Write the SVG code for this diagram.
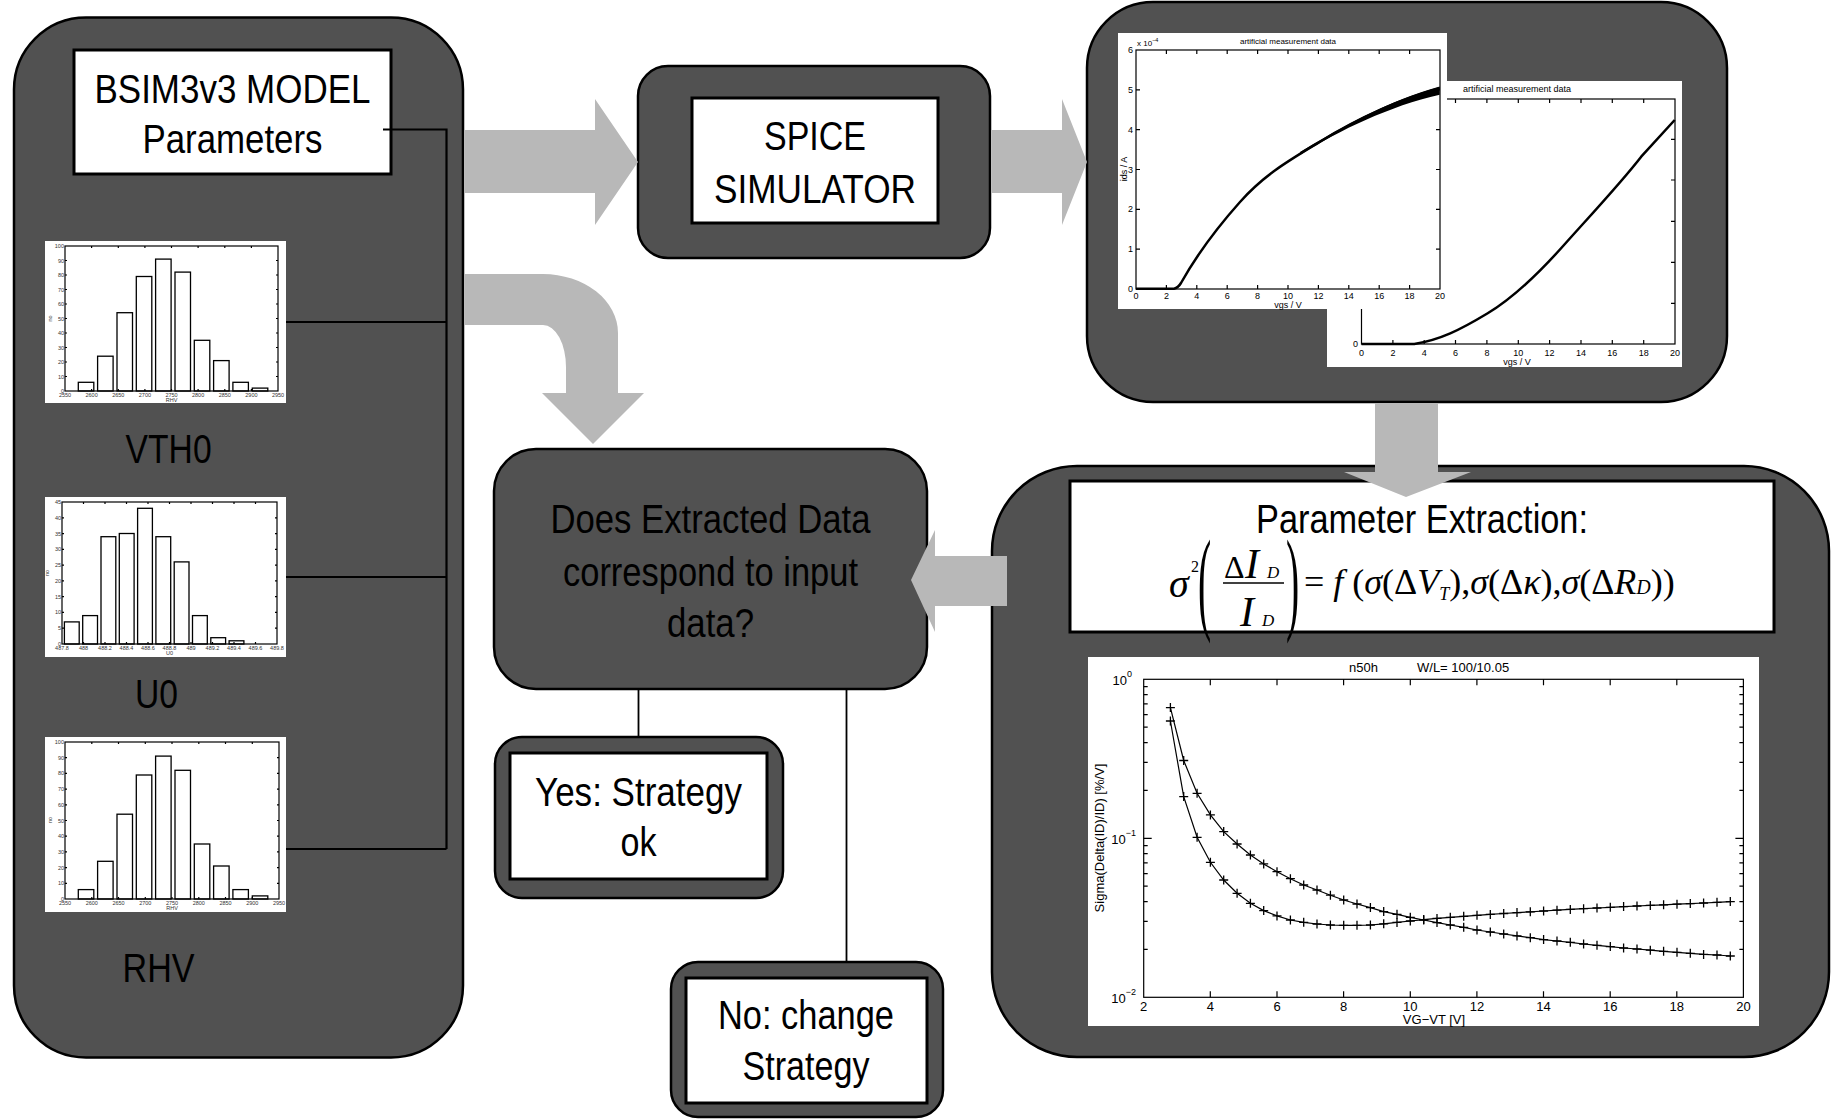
<svg xmlns="http://www.w3.org/2000/svg" width="1832" height="1119" viewBox="0 0 1832 1119">
<defs>
<style>
.box{fill:#515151;stroke:#000;stroke-width:2.5}
.wbox{fill:#fff;stroke:#000;stroke-width:3}
.wb{fill:#fff}
.arr{fill:#b8b8b8}
.ln{stroke:#000;stroke-width:2.2;fill:none}
.lbl{font-family:"Liberation Sans",Arial,sans-serif;font-size:40px;fill:#000;text-anchor:middle}
.ax{fill:none;stroke:#000;stroke-width:1.2}
.bar{fill:#fff;stroke:#000;stroke-width:1.3}
.t5{font-family:"Liberation Sans",Arial,sans-serif;font-size:5.5px;fill:#333}
.t8{font-family:"Liberation Sans",Arial,sans-serif;font-size:8px;fill:#000}
.t9{font-family:"Liberation Sans",Arial,sans-serif;font-size:9px;fill:#000}
.t13{font-family:"Liberation Sans",Arial,sans-serif;font-size:13px;fill:#000}
.mid{text-anchor:middle}
.end{text-anchor:end}
.fm{font-family:"Liberation Serif","Times New Roman",serif;fill:#000}
.crv{fill:none;stroke:#000;stroke-width:2.5;stroke-linejoin:round}
.fit{fill:none;stroke:#000;stroke-width:1.2;marker-start:url(#plus);marker-mid:url(#plus);marker-end:url(#plus)}
</style>
<marker id="plus" markerWidth="10" markerHeight="10" refX="5" refY="5" markerUnits="userSpaceOnUse" overflow="visible">
<path d="M0.5,5H9.5M5,0.5V9.5" stroke="#000" stroke-width="1.3" fill="none"/>
</marker>
</defs>

<g id="left-panel">
<rect class="box" x="14" y="17.5" width="449" height="1040" rx="72" ry="72"/>
</g>

<g id="bsim-params">
<rect class="wbox" x="74" y="50" width="317" height="124"/>
<text class="lbl" x="232.5" y="103" textLength="276" lengthAdjust="spacingAndGlyphs">BSIM3v3 MODEL</text>
<text class="lbl" x="232.5" y="153" textLength="180" lengthAdjust="spacingAndGlyphs">Parameters</text>
</g>

<g id="hist-vth0">
<rect class="wb" x="45" y="241" width="241" height="162"/>
<rect class="bar" x="78.3" y="382.3" width="15.5" height="8.7"/>
<rect class="bar" x="97.6" y="356.2" width="15.5" height="34.8"/>
<rect class="bar" x="117" y="312.7" width="15.5" height="78.3"/>
<rect class="bar" x="136.3" y="276.5" width="15.5" height="114.5"/>
<rect class="bar" x="155.6" y="259.1" width="15.5" height="131.9"/>
<rect class="bar" x="175" y="272.1" width="15.5" height="118.9"/>
<rect class="bar" x="194.3" y="340.3" width="15.5" height="50.7"/>
<rect class="bar" x="213.6" y="360.6" width="15.5" height="30.4"/>
<rect class="bar" x="232.9" y="382.3" width="15.5" height="8.7"/>
<rect class="bar" x="252.3" y="388.1" width="15.5" height="2.9"/>
<rect class="ax" x="65" y="246" width="213" height="145"/>
<path class="ax" d="M65,376.5h2M65,362h2M65,347.5h2M65,333h2M65,318.5h2M65,304h2M65,289.5h2M65,275h2M65,260.5h2M278,376.5h-2M278,362h-2M278,347.5h-2M278,333h-2M278,318.5h-2M278,304h-2M278,289.5h-2M278,275h-2M278,260.5h-2M91.6,391v-2M118.3,391v-2M144.9,391v-2M171.5,391v-2M198.1,391v-2M224.8,391v-2M251.4,391v-2M91.6,246v2M118.3,246v2M144.9,246v2M171.5,246v2M198.1,246v2M224.8,246v2M251.4,246v2"/>
<g class="t5 end">
<text x="64" y="393">0</text><text x="64" y="378.5">10</text><text x="64" y="364">20</text><text x="64" y="349.5">30</text><text x="64" y="335">40</text><text x="64" y="320.5">50</text><text x="64" y="306">60</text><text x="64" y="291.5">70</text><text x="64" y="277">80</text><text x="64" y="262.5">90</text><text x="64" y="248">100</text>
</g>
<g class="t5 mid">
<text x="65" y="397">2550</text><text x="91.6" y="397">2600</text><text x="118.3" y="397">2650</text><text x="144.9" y="397">2700</text><text x="171.5" y="397">2750</text><text x="198.1" y="397">2800</text><text x="224.8" y="397">2850</text><text x="251.4" y="397">2900</text><text x="278" y="397">2950</text>
<text x="171.5" y="402">RHV</text>
<text transform="translate(52,318.5) rotate(-90)">no</text>
</g>
</g>

<g id="label-vth0"><text class="lbl" x="168.6" y="463" textLength="86" lengthAdjust="spacingAndGlyphs">VTH0</text></g>

<g id="hist-u0">
<rect class="wb" x="45" y="497" width="241" height="160"/>
<rect class="bar" x="64.4" y="621.9" width="14.8" height="22.1"/>
<rect class="bar" x="82.7" y="615.6" width="14.8" height="28.4"/>
<rect class="bar" x="101" y="536.7" width="14.8" height="107.3"/>
<rect class="bar" x="119.3" y="533.5" width="14.8" height="110.5"/>
<rect class="bar" x="137.6" y="508.3" width="14.8" height="135.7"/>
<rect class="bar" x="155.9" y="536.7" width="14.8" height="107.3"/>
<rect class="bar" x="174.2" y="561.9" width="14.8" height="82.1"/>
<rect class="bar" x="192.5" y="615.6" width="14.8" height="28.4"/>
<rect class="bar" x="210.8" y="637.7" width="14.8" height="6.3"/>
<rect class="bar" x="229.1" y="640.8" width="14.8" height="3.2"/>
<rect class="ax" x="62" y="502" width="215" height="142"/>
<path class="ax" d="M62,628.2h2M62,612.4h2M62,596.7h2M62,580.9h2M62,565.1h2M62,549.3h2M62,533.6h2M62,517.8h2M277,628.2h-2M277,612.4h-2M277,596.7h-2M277,580.9h-2M277,565.1h-2M277,549.3h-2M277,533.6h-2M277,517.8h-2M83.5,644v-2M105,644v-2M126.5,644v-2M148,644v-2M169.5,644v-2M191,644v-2M212.5,644v-2M234,644v-2M255.5,644v-2M83.5,502v2M105,502v2M126.5,502v2M148,502v2M169.5,502v2M191,502v2M212.5,502v2M234,502v2M255.5,502v2"/>
<g class="t5 end">
<text x="61" y="646">0</text><text x="61" y="630.2">5</text><text x="61" y="614.4">10</text><text x="61" y="598.7">15</text><text x="61" y="582.9">20</text><text x="61" y="567.1">25</text><text x="61" y="551.3">30</text><text x="61" y="535.6">35</text><text x="61" y="519.8">40</text><text x="61" y="504">45</text>
</g>
<g class="t5 mid">
<text x="62" y="650">487.8</text><text x="83.5" y="650">488</text><text x="105" y="650">488.2</text><text x="126.5" y="650">488.4</text><text x="148" y="650">488.6</text><text x="169.5" y="650">488.8</text><text x="191" y="650">489</text><text x="212.5" y="650">489.2</text><text x="234" y="650">489.4</text><text x="255.5" y="650">489.6</text><text x="277" y="650">489.8</text>
<text x="169.5" y="655">U0</text>
<text transform="translate(49,573) rotate(-90)">no</text>
</g>
</g>

<g id="label-u0"><text class="lbl" x="156.5" y="708" textLength="43" lengthAdjust="spacingAndGlyphs">U0</text></g>

<g id="hist-rhv">
<rect class="wb" x="45" y="737" width="241" height="175"/>
<rect class="bar" x="78.3" y="889.6" width="15.5" height="9.4"/>
<rect class="bar" x="97.6" y="861.3" width="15.5" height="37.7"/>
<rect class="bar" x="117" y="814.2" width="15.5" height="84.8"/>
<rect class="bar" x="136.3" y="775" width="15.5" height="124"/>
<rect class="bar" x="155.6" y="756.1" width="15.5" height="142.9"/>
<rect class="bar" x="175" y="770.3" width="15.5" height="128.7"/>
<rect class="bar" x="194.3" y="844" width="15.5" height="55"/>
<rect class="bar" x="213.6" y="866" width="15.5" height="33"/>
<rect class="bar" x="232.9" y="889.6" width="15.5" height="9.4"/>
<rect class="bar" x="252.3" y="895.9" width="15.5" height="3.1"/>
<rect class="ax" x="65" y="742" width="214" height="157"/>
<path class="ax" d="M65,883.3h2M65,867.6h2M65,851.9h2M65,836.2h2M65,820.5h2M65,804.8h2M65,789.1h2M65,773.4h2M65,757.7h2M279,883.3h-2M279,867.6h-2M279,851.9h-2M279,836.2h-2M279,820.5h-2M279,804.8h-2M279,789.1h-2M279,773.4h-2M279,757.7h-2M91.8,899v-2M118.5,899v-2M145.3,899v-2M172,899v-2M198.8,899v-2M225.5,899v-2M252.3,899v-2M91.8,742v2M118.5,742v2M145.3,742v2M172,742v2M198.8,742v2M225.5,742v2M252.3,742v2"/>
<g class="t5 end">
<text x="64" y="901">0</text><text x="64" y="885.3">10</text><text x="64" y="869.6">20</text><text x="64" y="853.9">30</text><text x="64" y="838.2">40</text><text x="64" y="822.5">50</text><text x="64" y="806.8">60</text><text x="64" y="791.1">70</text><text x="64" y="775.4">80</text><text x="64" y="759.7">90</text><text x="64" y="744">100</text>
</g>
<g class="t5 mid">
<text x="65" y="905">2550</text><text x="91.8" y="905">2600</text><text x="118.5" y="905">2650</text><text x="145.3" y="905">2700</text><text x="172" y="905">2750</text><text x="198.8" y="905">2800</text><text x="225.5" y="905">2850</text><text x="252.3" y="905">2900</text><text x="279" y="905">2950</text>
<text x="172" y="910">RHV</text>
<text transform="translate(52,820) rotate(-90)">no</text>
</g>
</g>

<g id="label-rhv"><text class="lbl" x="158.5" y="982" textLength="72" lengthAdjust="spacingAndGlyphs">RHV</text></g>

<g id="spice-simulator">
<rect class="box" x="638" y="66" width="352" height="192" rx="30" ry="30"/>
<rect class="wbox" x="692" y="98" width="246" height="125"/>
<text class="lbl" x="815" y="150" textLength="102" lengthAdjust="spacingAndGlyphs">SPICE</text>
<text class="lbl" x="815" y="203" textLength="202" lengthAdjust="spacingAndGlyphs">SIMULATOR</text>
</g>

<g id="measurement-data">
<rect class="box" x="1087" y="2" width="640" height="400" rx="66" ry="66"/>
<rect class="wb" x="1327" y="81" width="355" height="286"/>
<rect class="ax" x="1361.5" y="99" width="313.5" height="245"/>
<path class="ax" d="M1675,139.3h-4M1675,180h-4M1675,221.3h-4M1675,262.3h-4M1675,303.3h-4M1392.9,344v-4M1424.2,344v-4M1455.5,344v-4M1486.9,344v-4M1518.3,344v-4M1549.6,344v-4M1581,344v-4M1612.3,344v-4M1643.7,344v-4M1392.9,99v4M1424.2,99v4M1455.5,99v4M1486.9,99v4M1518.3,99v4M1549.6,99v4M1581,99v4M1612.3,99v4M1643.7,99v4"/>
<path class="crv" d="M1361.5,344H1414.3C1440,340 1460,330 1487.7,313.3S1540,272 1564,245S1620,184 1641.2,156.7L1674.7,120"/>
<text class="t9 mid" x="1517" y="92">artificial measurement data</text>
<g class="t9 mid">
<text x="1361.5" y="356">0</text><text x="1392.9" y="356">2</text><text x="1424.2" y="356">4</text><text x="1455.5" y="356">6</text><text x="1486.9" y="356">8</text><text x="1518.3" y="356">10</text><text x="1549.6" y="356">12</text><text x="1581" y="356">14</text><text x="1612.3" y="356">16</text><text x="1643.7" y="356">18</text><text x="1675" y="356">20</text>
<text x="1517" y="365">vgs / V</text>
</g>
<text class="t9 end" x="1358" y="347">0</text>
<rect class="wb" x="1118" y="33" width="329" height="276"/>
<rect class="ax" x="1136" y="50" width="304" height="239"/>
<path class="ax" d="M1136,249.2h4M1136,209.3h4M1136,169.5h4M1136,129.7h4M1136,89.8h4M1440,249.2h-4M1440,209.3h-4M1440,169.5h-4M1440,129.7h-4M1440,89.8h-4M1166.4,289v-4M1196.8,289v-4M1227.2,289v-4M1257.6,289v-4M1288,289v-4M1318.4,289v-4M1348.8,289v-4M1379.2,289v-4M1409.6,289v-4M1166.4,50v4M1196.8,50v4M1227.2,50v4M1257.6,50v4M1288,50v4M1318.4,50v4M1348.8,50v4M1379.2,50v4M1409.6,50v4"/>
<path class="crv" d="M1136,288.7H1174Q1178,288 1181,283C1195,258 1215,230 1240,202S1290,160 1320,141.7S1390,102 1439.7,88.3"/>
<path fill="#000" d="M1300,152C1340,128 1390,100 1439.7,86.5V94.8C1390,106 1340,130 1300,155Z"/>
<text class="t8 mid" x="1288" y="44">artificial measurement data</text>
<text class="t8" x="1137" y="46">x 10<tspan font-size="5.5" dy="-4">−4</tspan></text>
<g class="t9 end">
<text x="1133" y="292">0</text><text x="1133" y="252.2">1</text><text x="1133" y="212.3">2</text><text x="1133" y="172.5">3</text><text x="1133" y="132.7">4</text><text x="1133" y="92.8">5</text><text x="1133" y="53">6</text>
</g>
<g class="t9 mid">
<text x="1136" y="299">0</text><text x="1166.4" y="299">2</text><text x="1196.8" y="299">4</text><text x="1227.2" y="299">6</text><text x="1257.6" y="299">8</text><text x="1288" y="299">10</text><text x="1318.4" y="299">12</text><text x="1348.8" y="299">14</text><text x="1379.2" y="299">16</text><text x="1409.6" y="299">18</text><text x="1440" y="299">20</text>
<text x="1288" y="308">vgs / V</text>
<text transform="translate(1127,169) rotate(-90)">ids / A</text>
</g>
</g>

<g id="decision">
<rect class="box" x="494" y="449" width="433" height="240" rx="42" ry="42"/>
<text class="lbl" x="710.5" y="533" textLength="320" lengthAdjust="spacingAndGlyphs">Does Extracted Data</text>
<text class="lbl" x="710.5" y="586" textLength="295" lengthAdjust="spacingAndGlyphs">correspond to input</text>
<text class="lbl" x="710.5" y="637" textLength="87" lengthAdjust="spacingAndGlyphs">data?</text>
</g>

<g id="yes-strategy-ok">
<rect class="box" x="495" y="737" width="288" height="161" rx="27" ry="27"/>
<rect class="wbox" x="510" y="753" width="257" height="126"/>
<text class="lbl" x="638.5" y="806" textLength="207" lengthAdjust="spacingAndGlyphs">Yes: Strategy</text>
<text class="lbl" x="638.5" y="856" textLength="36" lengthAdjust="spacingAndGlyphs">ok</text>
</g>

<g id="no-change-strategy">
<rect class="box" x="671" y="962" width="272" height="155" rx="27" ry="27"/>
<rect class="wbox" x="686" y="978" width="241" height="125"/>
<text class="lbl" x="806" y="1029" textLength="176" lengthAdjust="spacingAndGlyphs">No: change</text>
<text class="lbl" x="806" y="1080" textLength="127" lengthAdjust="spacingAndGlyphs">Strategy</text>
</g>

<g id="parameter-extraction">
<rect class="box" x="992" y="466" width="837" height="591" rx="85" ry="85"/>
<rect class="wbox" x="1070" y="481" width="704" height="151"/>
<text class="lbl" x="1422" y="533" textLength="332" lengthAdjust="spacingAndGlyphs">Parameter Extraction:</text>
<g class="fm">
<text x="1169" y="597" font-size="40" font-style="italic">σ</text>
<text x="1191" y="572" font-size="16">2</text>
<text transform="translate(1198,619) scale(0.9,2.6)" font-size="44">(</text>
<text transform="translate(1286,619) scale(0.9,2.6)" font-size="44">)</text>
<text x="1224" y="578" font-size="32">Δ</text>
<text x="1245" y="578" font-size="42" font-style="italic">I</text>
<text x="1267" y="578" font-size="17" font-style="italic">D</text>
<text x="1240" y="626" font-size="42" font-style="italic">I</text>
<text x="1262" y="626" font-size="17" font-style="italic">D</text>
<text x="1304" y="594" font-size="36">= <tspan font-style="italic">f</tspan> (<tspan font-style="italic">σ</tspan>(Δ<tspan font-style="italic">V</tspan><tspan font-style="italic" font-size="18" dy="6">T</tspan><tspan dy="-6">),</tspan><tspan font-style="italic">σ</tspan>(Δ<tspan font-style="italic">κ</tspan>),<tspan font-style="italic">σ</tspan>(Δ<tspan font-style="italic">R</tspan><tspan font-style="italic" font-size="20">D</tspan>))</text>
</g>
<line x1="1223" y1="583" x2="1284" y2="583" stroke="#000" stroke-width="1.6"/>
<rect class="wb" x="1088" y="657" width="671" height="369"/>
<rect class="ax" x="1143.7" y="679.3" width="599.7" height="318"/>
<path class="ax" d="M1143.7,838.3h8M1743.4,838.3h-8M1143.7,949.4h4M1143.7,921.4h4M1143.7,901.6h4M1143.7,886.2h4M1143.7,873.6h4M1143.7,862.9h4M1143.7,853.7h4M1143.7,845.6h4M1143.7,790.4h4M1143.7,762.4h4M1143.7,742.6h4M1143.7,727.2h4M1143.7,714.6h4M1143.7,703.9h4M1143.7,694.7h4M1143.7,686.6h4M1743.4,949.4h-4M1743.4,921.4h-4M1743.4,901.6h-4M1743.4,886.2h-4M1743.4,873.6h-4M1743.4,862.9h-4M1743.4,853.7h-4M1743.4,845.6h-4M1743.4,790.4h-4M1743.4,762.4h-4M1743.4,742.6h-4M1743.4,727.2h-4M1743.4,714.6h-4M1743.4,703.9h-4M1743.4,694.7h-4M1743.4,686.6h-4M1210.3,997.3v-6M1277,997.3v-6M1343.6,997.3v-6M1410.3,997.3v-6M1476.9,997.3v-6M1543.5,997.3v-6M1610.2,997.3v-6M1676.8,997.3v-6M1210.3,679.3v6M1277,679.3v6M1343.6,679.3v6M1410.3,679.3v6M1476.9,679.3v6M1543.5,679.3v6M1610.2,679.3v6M1676.8,679.3v6"/>
<polyline class="fit" points="1170.4,707.6 1183.7,760.5 1197.1,793.3 1210.4,814.9 1223.7,831.6 1237.1,844 1250.4,855 1263.7,863.9 1277,871.7 1290.4,878.7 1303.7,885 1317,890 1330.4,895.2 1343.7,900 1357,904 1370.4,907.6 1383.7,911.6 1397,914.3 1410.3,917.3 1423.7,920 1437,922.6 1450.3,925 1463.7,927.3 1477,930 1490.3,932 1503.7,934 1517,935.9 1530.3,937.7 1543.6,939.6 1557,941 1570.3,942.3 1583.6,944 1597,945.3 1610.3,946.6 1623.6,948 1637,949 1650.3,950.2 1663.6,951.3 1677,952.3 1690.3,953.3 1703.6,954.4 1717,955 1730.3,956"/>
<polyline class="fit" points="1170.4,721 1183.7,796.6 1197.1,837.3 1210.4,862.3 1223.7,880 1237.1,893.3 1250.4,903.3 1263.7,910.6 1277,915.9 1290.4,920 1303.7,922.3 1317,924 1330.4,925 1343.7,925.3 1357,925.3 1370.4,925 1383.7,923.8 1397,922.4 1410.3,921 1423.7,919.6 1437,918.4 1450.3,917.3 1463.7,916.3 1477,915.3 1490.3,914.4 1503.7,913.5 1517,912.6 1530.3,911.8 1543.6,911 1557,910.2 1570.3,909.4 1583.6,908.7 1597,908 1610.3,907.3 1623.6,906.6 1637,906 1650.3,905.4 1663.6,904.8 1677,904.2 1690.3,903.6 1703.6,903 1717,902.3 1730.3,901.6"/>
<text class="t13" x="1349" y="672" font-size="15">n50h<tspan x="1417">W/L= 100/10.05</tspan></text>
<g class="t13 mid">
<text x="1143.7" y="1011">2</text><text x="1210.3" y="1011">4</text><text x="1277" y="1011">6</text><text x="1343.6" y="1011">8</text><text x="1410.3" y="1011">10</text><text x="1476.9" y="1011">12</text><text x="1543.5" y="1011">14</text><text x="1610.2" y="1011">16</text><text x="1676.8" y="1011">18</text><text x="1743.4" y="1011">20</text>
<text x="1434" y="1024">VG−VT  [V]</text>
<text transform="translate(1104,838) rotate(-90)">Sigma(Delta(ID)/ID)  [%/V]</text>
</g>
<g class="t13 end">
<text x="1132" y="685">10<tspan font-size="9" dy="-8">0</tspan></text>
<text x="1136" y="844">10<tspan font-size="9" dy="-8">−1</tspan></text>
<text x="1136" y="1003">10<tspan font-size="9" dy="-8">−2</tspan></text>
</g>
</g>

<g id="connectors">
<path class="arr" d="M464.5,130H595V99L638,162L595,225V193H464.5Z"/>
<path class="arr" d="M992,130H1062V99L1087,162L1062,225V193H992Z"/>
<path class="arr" d="M464.5,274H543A75,59 0 0 1 618,333V393H644L593,444L542,393H566V367A23,42 0 0 0 543,325H464.5Z"/>
<path class="arr" d="M1375,403H1438V472H1471L1406,497L1344,472H1375Z"/>
<path class="arr" d="M1007,556V606H935V632L911,580L935,530V556Z"/>
<path class="ln" d="M383,129.5H446.5V849M286,322H446.5M286,577H446.5M286,849H446.5"/>
<path class="ln" d="M638.5,690V737M846.5,690V962" style="stroke-width:1.8"/>
</g>
</svg>
